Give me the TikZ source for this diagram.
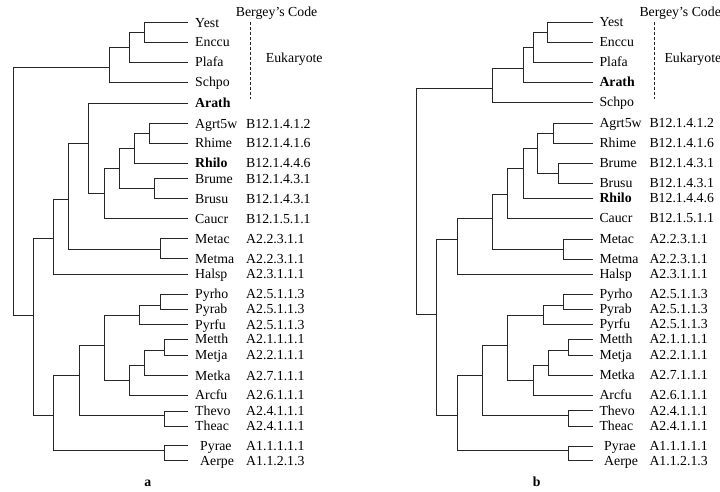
\documentclass[tikz,border=0pt]{standalone}
\usepackage{fontspec}
\setmainfont{Liberation Serif}
\begin{document}
\begin{tikzpicture}[x=1pt,y=-1pt,
  branch/.style={line width=0.85pt, draw=black!85},
  taxon/.style={anchor=base west, inner sep=0pt, font=\fontsize{13.8}{15}\selectfont},
  panellabel/.style={anchor=base, inner sep=0pt, font=\bfseries\fontsize{13.8}{15}\selectfont},
  guide/.style={line width=0.8pt, draw=black!85, dash pattern=on 3pt off 2pt}]
\useasboundingbox (0,0) rectangle (720,491);
\clip (0,0) rectangle (720,491);

% ---------------- tree a ----------------
% leaf tips
\foreach \n/\y in {Yest/22.5, Enccu/42.3, Plafa/62.3, Schpo/82.3, Arath/103.3,
  Agrt/123.5, Rhime/143.3, Rhilo/163.3, Brume/178.5, Brusu/198.5, Caucr/218.5,
  Metac/238.5, Metma/258.7, Halsp/274, Pyrho/294.3, Pyrab/309.3, Pyrfu/324.5,
  Metth/339.3, Metja/355, Metka/375.5, Arcfu/395.3, Thevo/411, Theac/426,
  Pyrae/445.7, Aerpe/460.7}
  \coordinate (a\n) at (188,\y);
% taxon names
\foreach \n/\t in {Yest/Yest, Enccu/Enccu, Plafa/Plafa, Schpo/Schpo,
  Arath/\textbf{Arath}, Agrt/Agrt5w, Rhime/Rhime, Rhilo/\textbf{Rhilo},
  Brume/Brume, Brusu/Brusu, Caucr/Caucr, Metac/Metac, Metma/Metma, Halsp/Halsp,
  Pyrho/Pyrho, Pyrab/Pyrab, Pyrfu/Pyrfu, Metth/Metth, Metja/Metja, Metka/Metka,
  Arcfu/Arcfu, Thevo/Thevo, Theac/Theac}
  \node[taxon] (a\n-t) at ([shift={(7,4.6)}]a\n) {\t};
\foreach \n in {Pyrae, Aerpe}
  \node[taxon] (a\n-t) at ([shift={(12,4.6)}]a\n) {\n};
% Bergey codes
\foreach \n/\c in {Agrt/B12.1.4.1.2, Rhime/B12.1.4.1.6, Rhilo/B12.1.4.4.6,
  Brume/B12.1.4.3.1, Brusu/B12.1.4.3.1, Caucr/B12.1.5.1.1, Metac/A2.2.3.1.1,
  Metma/A2.2.3.1.1, Halsp/A2.3.1.1.1, Pyrho/A2.5.1.1.3, Pyrab/A2.5.1.1.3,
  Pyrfu/A2.5.1.1.3, Metth/A2.1.1.1.1, Metja/A2.2.1.1.1, Metka/A2.7.1.1.1,
  Arcfu/A2.6.1.1.1, Thevo/A2.4.1.1.1, Theac/A2.4.1.1.1, Pyrae/A1.1.1.1.1,
  Aerpe/A1.1.2.1.3}
  \node[taxon] (a\n-c) at ([shift={(58,4.6)}]a\n) {\c};
% inner vertices
\coordinate (aRoot) at (13.3,67.7);
\coordinate (aYE)  at (144.3,32.3);
\coordinate (aPL)  at (129,47.7);
\coordinate (aEU)  at (109,67.7);
\coordinate (aB1)  at (149.3,133.3);
\coordinate (aB2)  at (134.3,148.3);
\coordinate (aB3)  at (154.3,188.3);
\coordinate (aB4)  at (119.3,168.3);
\coordinate (aB5)  at (104.3,193.3);
\coordinate (aB6)  at (88.3,143.3);
\coordinate (aB7)  at (160,249);
\coordinate (aB8)  at (68.3,199.3);
\coordinate (aB9)  at (53.3,238.3);
\coordinate (aB10) at (33.3,315);
\coordinate (aC1)  at (160,305);
\coordinate (aC2)  at (139.3,315);
\coordinate (aC3)  at (164.3,350.7);
\coordinate (aC4)  at (144.3,365);
\coordinate (aC5)  at (129.3,380.3);
\coordinate (aC6)  at (104.3,345);
\coordinate (aC7)  at (164.3,415.7);
\coordinate (aC8)  at (79,375);
\coordinate (aC9)  at (164.3,450.7);
\coordinate (aC10) at (53.3,415.7);
% branches
\foreach \p/\c in {aRoot/aEU, aRoot/aB10,
  aEU/aPL, aEU/aSchpo, aPL/aYE, aPL/aPlafa, aYE/aYest, aYE/aEnccu,
  aB10/aB9, aB10/aC10, aB9/aB8, aB9/aHalsp, aB8/aB6, aB8/aB7,
  aB7/aMetac, aB7/aMetma, aB6/aArath, aB6/aB5, aB5/aB4, aB5/aCaucr,
  aB4/aB2, aB4/aB3, aB3/aBrume, aB3/aBrusu, aB2/aB1, aB2/aRhilo,
  aB1/aAgrt, aB1/aRhime,
  aC10/aC8, aC10/aC9, aC9/aPyrae, aC9/aAerpe, aC8/aC6, aC8/aC7,
  aC7/aThevo, aC7/aTheac, aC6/aC2, aC6/aC5, aC5/aC4, aC5/aArcfu,
  aC4/aC3, aC4/aMetka, aC3/aMetth, aC3/aMetja, aC2/aC1, aC2/aPyrfu,
  aC1/aPyrho, aC1/aPyrab}
  \draw[branch] (\p) |- (\c);
% Bergey's Code header and eukaryote bracket
\node[taxon] (aHead) at (235.7,16) {Bergey's Code};
\node[taxon] (aEuk) at (265.7,62) {Eukaryote};
\coordinate (aGuideTop) at (250,21.7);
\coordinate (aGuideBot) at (250,99);
\draw[guide] (aGuideTop) -- (aGuideBot);
\node[panellabel] (aCap) at (147.7,486.5) {a};

% ---------------- tree b ----------------
\foreach \n/\y in {Yest/22.3, Enccu/42.3, Plafa/62.3, Arath/82.3, Schpo/102.3,
  Agrt/123.3, Rhime/143.3, Brume/163.3, Brusu/183.3, Rhilo/198.3, Caucr/218.3,
  Metac/239, Metma/259, Halsp/274, Pyrho/294.3, Pyrab/309.3, Pyrfu/324.3,
  Metth/339.3, Metja/355, Metka/375, Arcfu/395, Thevo/410.5, Theac/426,
  Pyrae/446, Aerpe/460.7}
  \coordinate (b\n) at (593.3,\y);
\foreach \n/\t in {Yest/Yest, Enccu/Enccu, Plafa/Plafa, Arath/\textbf{Arath},
  Schpo/Schpo, Agrt/Agrt5w, Rhime/Rhime, Brume/Brume, Brusu/Brusu,
  Rhilo/\textbf{Rhilo}, Caucr/Caucr, Metac/Metac, Metma/Metma, Halsp/Halsp,
  Pyrho/Pyrho, Pyrab/Pyrab, Pyrfu/Pyrfu, Metth/Metth, Metja/Metja, Metka/Metka,
  Arcfu/Arcfu, Thevo/Thevo, Theac/Theac}
  \node[taxon] (b\n-t) at ([shift={(6,4.6)}]b\n) {\t};
\foreach \n in {Pyrae, Aerpe}
  \node[taxon] (b\n-t) at ([shift={(10.7,4.6)}]b\n) {\n};
\foreach \n/\c in {Agrt/B12.1.4.1.2, Rhime/B12.1.4.1.6, Brume/B12.1.4.3.1,
  Brusu/B12.1.4.3.1, Rhilo/B12.1.4.4.6, Caucr/B12.1.5.1.1, Metac/A2.2.3.1.1,
  Metma/A2.2.3.1.1, Halsp/A2.3.1.1.1, Pyrho/A2.5.1.1.3, Pyrab/A2.5.1.1.3,
  Pyrfu/A2.5.1.1.3, Metth/A2.1.1.1.1, Metja/A2.2.1.1.1, Metka/A2.7.1.1.1,
  Arcfu/A2.6.1.1.1, Thevo/A2.4.1.1.1, Theac/A2.4.1.1.1, Pyrae/A1.1.1.1.1,
  Aerpe/A1.1.2.1.3}
  \node[taxon] (b\n-c) at ([shift={(56,4.6)}]b\n) {\c};
\coordinate (bRoot) at (416.7,88.3);
\coordinate (bYE)  at (547.7,32.3);
\coordinate (bPL)  at (533.3,47.3);
\coordinate (bAR)  at (523.3,68.3);
\coordinate (bEU)  at (492.3,88.3);
\coordinate (bB1)  at (553.3,133.3);
\coordinate (bB3)  at (558.3,173.3);
\coordinate (bB2)  at (537.7,148.3);
\coordinate (bB4)  at (523.3,168.3);
\coordinate (bB5)  at (507.7,194);
\coordinate (bB7)  at (563.3,249);
\coordinate (bB6)  at (492.3,218.3);
\coordinate (bB9)  at (457.7,239);
\coordinate (bB10) at (436.7,314.3);
\coordinate (bC1)  at (563.3,305);
\coordinate (bC2)  at (543.3,315);
\coordinate (bC3)  at (568.3,350);
\coordinate (bC4)  at (548.3,365);
\coordinate (bC5)  at (533.3,380);
\coordinate (bC6)  at (507.7,345);
\coordinate (bC7)  at (568.3,415.7);
\coordinate (bC8)  at (482.3,375);
\coordinate (bC9)  at (568.3,450.7);
\coordinate (bC10) at (457.7,415.7);
\foreach \p/\c in {bRoot/bEU, bRoot/bB10,
  bEU/bAR, bEU/bSchpo, bAR/bPL, bAR/bArath, bPL/bYE, bPL/bPlafa,
  bYE/bYest, bYE/bEnccu,
  bB10/bB9, bB10/bC10, bB9/bB6, bB9/bHalsp, bB6/bB5, bB6/bB7,
  bB7/bMetac, bB7/bMetma, bB5/bB4, bB5/bCaucr, bB4/bB2, bB4/bRhilo,
  bB2/bB1, bB2/bB3, bB1/bAgrt, bB1/bRhime, bB3/bBrume, bB3/bBrusu,
  bC10/bC8, bC10/bC9, bC9/bPyrae, bC9/bAerpe, bC8/bC6, bC8/bC7,
  bC7/bThevo, bC7/bTheac, bC6/bC2, bC6/bC5, bC5/bC4, bC5/bArcfu,
  bC4/bC3, bC4/bMetka, bC3/bMetth, bC3/bMetja, bC2/bC1, bC2/bPyrfu,
  bC1/bPyrho, bC1/bPyrab}
  \draw[branch] (\p) |- (\c);
\node[taxon] (bHead) at (639.3,16) {Bergey's Code};
\node[taxon] (bEuk) at (664.3,62) {Eukaryote};
\coordinate (bGuideTop) at (654,21.7);
\coordinate (bGuideBot) at (654,99);
\draw[guide] (bGuideTop) -- (bGuideBot);
\node[panellabel] (bCap) at (536.7,486.5) {b};
\end{tikzpicture}
\end{document}
